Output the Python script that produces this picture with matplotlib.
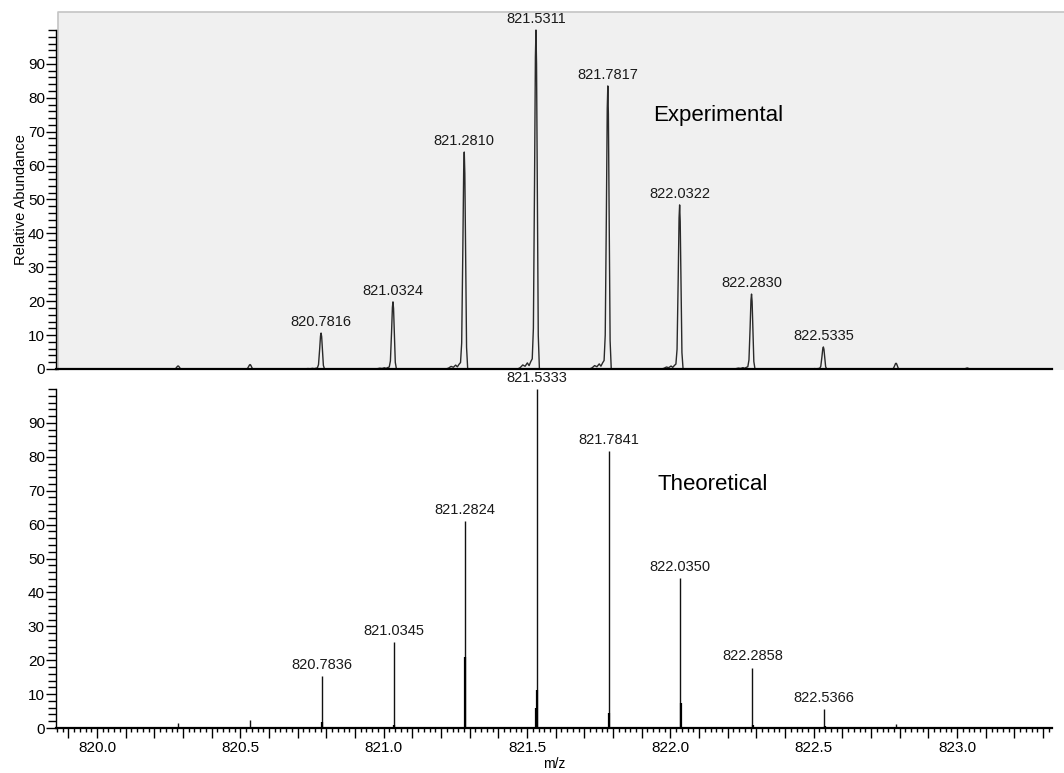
import numpy as np
import matplotlib
matplotlib.use("Agg")
import matplotlib.pyplot as plt
from matplotlib.patches import Rectangle
from matplotlib.lines import Line2D
from matplotlib.ticker import FixedLocator, MultipleLocator, FuncFormatter

plt.rcParams['font.family'] = ['Liberation Sans', 'DejaVu Sans']

# --- experimental (profile) peaks: labelled centroids and heights
exp_mz = [820.7816, 821.0324, 821.2810, 821.5311, 821.7817, 822.0322, 822.2830, 822.5335]
exp_int = [10.6, 19.8, 64.0, 100.0, 83.5, 48.4, 22.1, 6.5]
# small unlabelled peaks
exp_small_mz = [820.283, 820.534, 822.787, 823.035]
exp_small_int = [0.9, 1.3, 1.7, 0.3]
# peak profile template (offset in m/z, fraction of apex)
shape_dx = [-0.064, -0.055, -0.046, -0.038, -0.030, -0.024, -0.018, -0.013, -0.009,
            -0.005, -0.002, 0.0, 0.002, 0.005, 0.008, 0.012, 0.020]
shape_rel = [0.0, 0.004, 0.012, 0.008, 0.018, 0.010, 0.022, 0.03, 0.12,
             0.55, 0.92, 1.0, 0.9, 0.5, 0.10, 0.0, 0.0]

# --- theoretical (centroid sticks)
th_mz = [820.7836, 821.0345, 821.2824, 821.5333, 821.7841, 822.0350, 822.2858, 822.5366]
th_int = [15.3, 25.4, 61.0, 100.0, 81.7, 44.2, 17.8, 5.6]
# fine-structure sticks beside the main ones
th_side_mz = [820.7851, 821.0360, 821.2839, 821.5348, 821.5320, 821.7856, 822.0365, 822.2873, 822.5381]
th_side_int = [1.9, 0.8, 21.0, 11.2, 6.0, 4.4, 7.4, 1.0, 0.5]
th_small_mz = [820.030, 820.283, 820.534, 822.788, 823.040, 823.290]
th_small_int = [0.3, 1.5, 2.4, 1.3, 0.4, 0.3]

xmin, xmax = 819.857, 823.331

fig = plt.figure(figsize=(10.64, 7.73), dpi=100)
W, H = 1064, 773

# light grey panel behind the experimental trace, border on top and left only
fig.patches.append(Rectangle((58 / W, 1 - 370 / H), (1070 - 58) / W, (370 - 12) / H,
                             transform=fig.transFigure, facecolor='#f0f0f0',
                             edgecolor='none', zorder=-5))
fig.lines.append(Line2D([58 / W, 58 / W, 1.0], [1 - 370 / H, 1 - 12 / H, 1 - 12 / H],
                        transform=fig.transFigure, color='#c4c4c4', lw=1.2, zorder=-4))

ax1 = fig.add_axes([56 / W, 1 - 369 / H, (1052 - 56) / W, (369 - 30) / H])
ax2 = fig.add_axes([56 / W, 1 - 728 / H, (1052 - 56) / W, (728 - 389) / H])

# build the profile trace
trace_x, trace_y = [xmin], [0.0]
for c, h in sorted(zip(exp_mz + exp_small_mz, exp_int + exp_small_int)):
    for dx, r in zip(shape_dx, shape_rel):
        trace_x.append(c + dx)
        trace_y.append(h * r)
trace_x.append(xmax)
trace_y.append(0.0)
ax1.plot(trace_x, trace_y, color='#2a2a2a', lw=1.0, clip_on=False)

for c, h in zip(exp_mz, exp_int):
    ax1.annotate(f"{c:.4f}", (c, h), xytext=(0, 3), textcoords='offset points',
                 ha='center', va='bottom', fontsize=10.5, color='#1a1a1a',
                 annotation_clip=False)
ax1.text(822.166, 74.9, "Experimental", ha='center', va='center', fontsize=16)

ax2.vlines(th_mz, 0, th_int, color='#111111', lw=1.0)
ax2.vlines(th_side_mz, 0, th_side_int, color='#000000', lw=1.6)
ax2.vlines(th_small_mz, 0, th_small_int, color='#111111', lw=1.0)
for c, h in zip(th_mz, th_int):
    ax2.annotate(f"{c:.4f}", (c, h), xytext=(0, 3), textcoords='offset points',
                 ha='center', va='bottom', fontsize=10.5, color='#1a1a1a',
                 annotation_clip=False)
ax2.text(822.149, 71.7, "Theoretical", ha='center', va='center', fontsize=16)

for ax in (ax1, ax2):
    ax.set_xlim(xmin, xmax)
    ax.set_ylim(0, 100)
    ax.set_facecolor('none')
    for s in ('top', 'right'):
        ax.spines[s].set_visible(False)
    ax.spines['bottom'].set_linewidth(1.6)
    ax.spines['left'].set_linewidth(1.0)
    ax.yaxis.set_major_locator(FixedLocator(np.arange(0, 91, 10)))
    ax.yaxis.set_minor_locator(MultipleLocator(2))
    ax.tick_params(axis='y', which='major', length=7, width=1, labelsize=11, pad=1)
    ax.tick_params(axis='y', which='minor', length=6, width=1)

ax1.tick_params(axis='x', which='both', bottom=False, labelbottom=False)
ax1.set_ylabel("Relative Abundance", fontsize=10.5, labelpad=0)

ax2.xaxis.set_major_locator(MultipleLocator(0.1))
ax2.xaxis.set_minor_locator(MultipleLocator(0.02))
ax2.xaxis.set_major_formatter(FuncFormatter(
    lambda v, p: f"{v:.1f}" if abs(v * 2 - round(v * 2)) < 1e-6 else ""))
ax2.tick_params(axis='x', which='major', length=7, width=1, labelsize=11, pad=2)
ax2.tick_params(axis='x', which='minor', length=3, width=1)
ax2.set_xlabel("m/z", fontsize=10, labelpad=2)

fig.savefig("out.png", dpi=100)
